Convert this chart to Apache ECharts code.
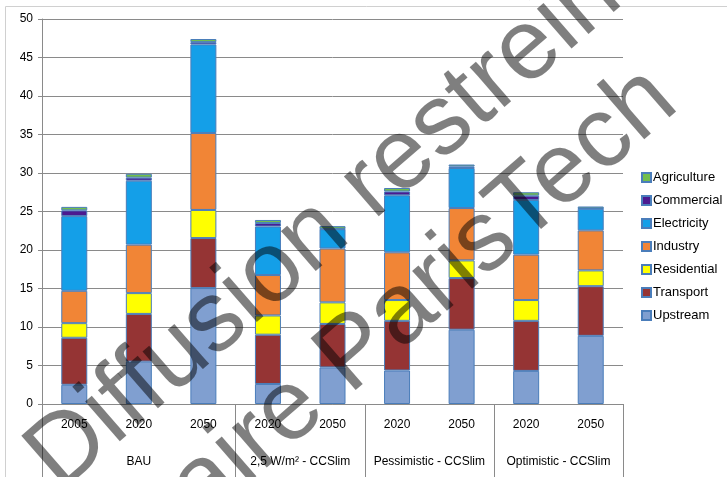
<!DOCTYPE html>
<html>
<head>
<meta charset="utf-8">
<script src="https://cdn.jsdelivr.net/npm/echarts@6/dist/echarts.min.js"></script>
<style>
  html, body { margin: 0; padding: 0; background: #fff; }
  #chart { width: 727px; height: 477px; }
</style>
</head>
<body>
<div id="chart"></div>
<script>
// categories (years) and their scenario groups
const years = ['2005', '2020', '2050', '2020', '2050', '2020', '2050', '2020', '2050'];
const groups = ['BAU', '2,5 W/m² - CCSlim', 'Pessimistic - CCSlim', 'Optimistic - CCSlim'];
const groupSizes = [3, 2, 2, 2];

// sector values, bottom of the stack first
const upstream    = [2.5, 5.5, 15.05, 2.6, 4.75, 4.35, 9.65, 4.3, 8.85];
const transport   = [6.1, 6.2, 6.5, 6.4, 5.65, 6.45, 6.7, 6.5, 6.45];
const residential = [1.9, 2.7, 3.65, 2.5, 2.8, 2.7, 2.3, 2.7, 2.05];
const industry    = [4.2, 6.3, 10.0, 5.25, 7.0, 6.2, 6.8, 5.9, 5.2];
const electricity = [9.7, 8.3, 11.5, 6.3, 2.5, 7.4, 5.2, 7.1, 2.8];
const commercial  = [0.75, 0.4, 0.3, 0.45, 0.05, 0.5, 0.2, 0.55, 0.05];
const agriculture = [0.45, 0.5, 0.4, 0.4, 0.35, 0.45, 0.25, 0.45, 0.25];

const yTicks = [0, 5, 10, 15, 20, 25, 30, 35, 40, 45, 50];

const sectors = [
  { name: 'Upstream', data: upstream, color: '#809FD0' },
  { name: 'Transport', data: transport, color: '#953434' },
  { name: 'Residential', data: residential, color: '#FFFF00' },
  { name: 'Industry', data: industry, color: '#F18536' },
  { name: 'Electricity', data: electricity, color: '#149FE8' },
  { name: 'Commercial', data: commercial, color: '#4B1A90' },
  { name: 'Agriculture', data: agriculture, color: '#73BE4C' }
];

// group boundaries and centres on a 0..9 scale
const bounds = [0];
groupSizes.forEach(n => bounds.push(bounds[bounds.length - 1] + n));
const centres = groupSizes.map((n, i) => bounds[i] + n / 2);

const font = "'Liberation Sans', sans-serif";
const gridColor = '#8A8A8A';

// watermark, two parallel lines
const wmAngle = 41 * Math.PI / 180;
const wmSize = 100;
const wmOrigin = [75, 510];
const wmAlong = [Math.cos(wmAngle), -Math.sin(wmAngle)];
const wmPerp = [Math.sin(wmAngle), Math.cos(wmAngle)];
const wmLine2 = [
  wmOrigin[0] + 116 * wmPerp[0] - 40 * wmAlong[0],
  wmOrigin[1] + 116 * wmPerp[1] - 40 * wmAlong[1]
];

const wmText = (text, pos) => ({
  type: 'text',
  silent: true,
  z: 100,
  x: pos[0],
  y: pos[1],
  rotation: wmAngle,
  style: {
    text: text,
    font: wmSize + "px 'Liberation Sans', sans-serif",
    fill: 'rgba(0,0,0,0.5)',
    textAlign: 'left',
    textVerticalAlign: 'bottom'
  }
});

const chart = echarts.init(document.getElementById('chart'));

chart.setOption({
  animation: false,
  textStyle: { fontFamily: font },
  grid: { left: 42, right: 104, top: 19, bottom: 73 },
  legend: {
    orient: 'vertical',
    left: 636,
    top: 166,
    itemWidth: 9,
    itemHeight: 9,
    itemGap: 10,
    icon: 'rect',
    data: sectors.map(s => s.name).reverse(),
    textStyle: { fontSize: 13, color: '#000', fontFamily: font, padding: [0, 0, 0, -3] }
  },
  xAxis: [
    {
      type: 'category',
      data: years,
      axisLine: { lineStyle: { color: gridColor, width: 1 } },
      axisTick: { interval: 0, length: 36, lineStyle: { color: gridColor } },
      axisLabel: { interval: 0, margin: 15, fontSize: 12, color: '#000' }
    },
    {
      type: 'value',
      position: 'bottom',
      min: 0,
      max: 9,
      axisLine: { show: false },
      splitLine: { show: false },
      axisTick: { show: true, customValues: bounds, length: 73, lineStyle: { color: gridColor } },
      axisLabel: {
        customValues: centres,
        margin: 52,
        fontSize: 12,
        color: '#000',
        formatter: v => groups[centres.indexOf(v)] || ''
      }
    }
  ],
  yAxis: {
    type: 'value',
    min: 0,
    max: 50,
    interval: 5,
    axisLine: { show: true, lineStyle: { color: gridColor } },
    axisTick: { show: true, length: 4, lineStyle: { color: gridColor } },
    axisLabel: { fontSize: 12, color: '#000', margin: 9, formatter: v => yTicks.includes(v) ? v : '' },
    splitLine: { lineStyle: { color: gridColor, width: 1 } }
  },
  series: sectors.map(s => ({
    name: s.name,
    type: 'bar',
    stack: 'total',
    barWidth: 26,
    xAxisIndex: 0,
    data: s.data,
    itemStyle: { color: s.color, borderColor: '#4A7DBA', borderWidth: 1 }
  })),
  graphic: [
    {
      type: 'rect',
      silent: true,
      z: -10,
      shape: { x: 5.5, y: 6.5, width: 740, height: 490 },
      style: { fill: 'none', stroke: '#D0D0D0', lineWidth: 1 }
    },
    wmText('Diffusion restreinte', wmOrigin),
    wmText('Chaire ParisTech', wmLine2)
  ]
});
</script>
</body>
</html>
